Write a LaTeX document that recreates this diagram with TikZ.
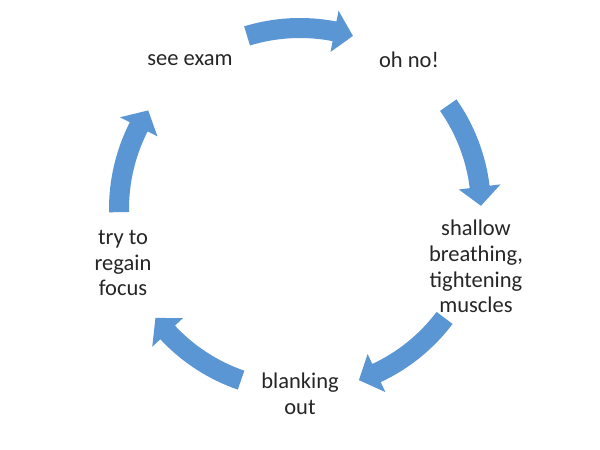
\documentclass[tikz,border=0pt]{standalone}
\usepackage{fontspec}
\setmainfont{Carlito}
\definecolor{arrowblue}{HTML}{5A96D3}
\definecolor{txt}{HTML}{262626}
\tikzset{
  lbl/.style={align=center, text=txt, font=\fontsize{22.5}{25.7}\selectfont, inner sep=0pt},
  cyc/.style={fill=arrowblue, draw=none}
}
\begin{document}
\begin{tikzpicture}[x=1pt,y=1pt]
\fill[white] (0,0) rectangle (600,450);
\useasboundingbox (0,0) rectangle (600,450);
\coordinate (c) at (300,241);
% labels
\node[lbl] (exam)  at (190,390) {see exam};
\node[lbl] (ohno)  at (409,390) {oh no!};
\node[lbl] (breath) at (476,183.5) {shallow\\breathing,\\tightening\\muscles};
\node[lbl] (blank) at (300,56) {blanking\\out};
\node[lbl] (focus) at (123,187) {try to\\regain\\focus};
% curved block arrows
\begin{scope}[shift={(c)}]
\foreach \m in {90,18,-54,-126,164}{
  \pgfmathsetmacro\ta{\m+17}
  \pgfmathsetmacro\hb{\m-11}
  \pgfmathsetmacro\tp{\m-17}
  \fill[cyc] (\ta:191) arc[start angle=\ta, end angle=\hb, radius=191pt]
     -- (\hb:202) -- (\tp:181) -- (\hb:160) -- (\hb:171)
     arc[start angle=\hb, end angle=\ta, radius=171pt] -- cycle;
}
\end{scope}
\end{tikzpicture}
\end{document}
